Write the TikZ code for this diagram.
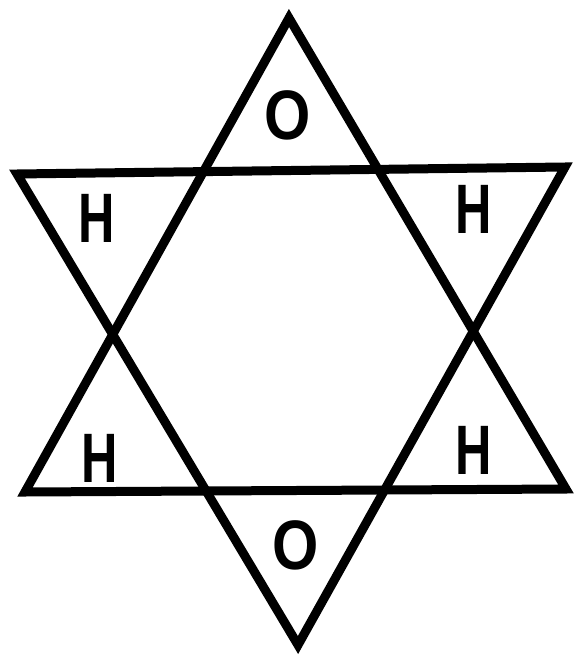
\documentclass[tikz,border=0pt]{standalone}
\usepackage{fontspec}
\setmainfont{Liberation Sans}
\usepackage{graphicx}
\tikzset{
  edge/.style={line width=9pt, line join=miter, black},
  atom/.style={inner sep=0pt, font=\fontsize{70}{70}\selectfont\bfseries}
}
\newcommand{\Hlab}{\scalebox{0.72}[1]{H}}
\newcommand{\Olab}{\scalebox{0.85}[1]{O}}
\begin{document}
\begin{tikzpicture}[x=1pt,y=-1pt]
\useasboundingbox (0,0) rectangle (574,658);
% upward triangle
\coordinate (ua) at (289,18);
\coordinate (ul) at (25,492);
\coordinate (ur) at (566,489);
% downward triangle
\coordinate (dl) at (17,174);
\coordinate (dr) at (565,167);
\coordinate (da) at (298,645);
\draw[edge] (ua) -- (ur) -- (ul) -- cycle;
\draw[edge] (dl) -- (dr) -- (da) -- cycle;
\node[atom] (o1) at (288,115) {\Olab};
\node[atom] (h1) at (97,218) {\Hlab};
\node[atom] (h2) at (474,209) {\Hlab};
\node[atom] (h3) at (100,458) {\Hlab};
\node[atom] (h4) at (474,450) {\Hlab};
\node[atom] (o2) at (296,545) {\Olab};
\end{tikzpicture}
\end{document}
